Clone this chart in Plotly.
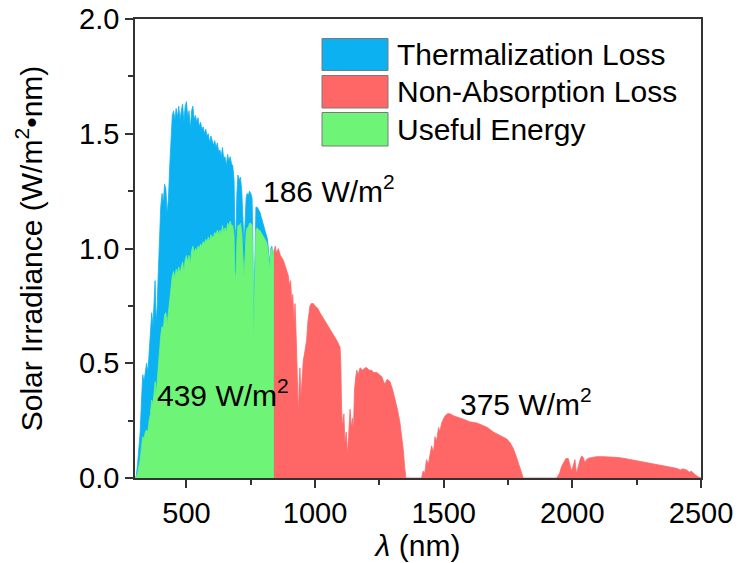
import plotly.graph_objects as go

# ---------------- data ----------------
# Full AM1.5G spectrum below the band edge (top of the blue area)
wl_vis = [300, 305, 310, 315, 320, 325, 330, 335, 340, 345, 350, 355, 360, 365, 370, 375, 378, 382, 386, 390,
          395, 400, 405, 410, 415, 420, 425, 430, 435, 440, 445, 450, 455, 460, 465, 470, 475, 480, 485, 490,
          495, 500, 505, 510, 515, 520, 525, 530, 535, 540, 545, 550, 555, 560, 565, 570, 575, 580, 585, 590,
          595, 600, 605, 610, 615, 620, 625, 630, 635, 640, 645, 650, 655, 660, 665, 670, 675, 680, 685, 688,
          692, 696, 700, 705, 710, 715, 720, 724, 728, 732, 736, 740, 745, 750, 755, 758, 761, 764, 767, 770,
          775, 780, 785, 790, 795, 800, 805, 810, 815, 820, 824, 828, 832, 836, 840]
total_vis = [0.0, 0.01, 0.06, 0.13, 0.20, 0.33, 0.45, 0.42, 0.47, 0.50, 0.46, 0.55, 0.60, 0.72, 0.66, 0.80, 0.86, 0.68, 0.74, 0.88,
             1.05, 1.18, 1.24, 1.20, 1.28, 1.26, 1.15, 1.22, 1.36, 1.45, 1.58, 1.60, 1.56, 1.61, 1.57, 1.62, 1.56, 1.60, 1.63, 1.55,
             1.62, 1.64, 1.57, 1.60, 1.52, 1.60, 1.62, 1.56, 1.58, 1.55, 1.57, 1.53, 1.55, 1.52, 1.53, 1.50, 1.52, 1.49, 1.50, 1.46,
             1.49, 1.47, 1.45, 1.47, 1.44, 1.46, 1.42, 1.43, 1.40, 1.44, 1.39, 1.40, 1.36, 1.41, 1.38, 1.40, 1.37, 1.36, 1.30, 1.10,
             1.04, 1.24, 1.32, 1.30, 1.31, 1.25, 1.10, 1.01, 1.12, 1.22, 1.24, 1.23, 1.25, 1.24, 1.22, 1.05, 0.64, 0.90, 1.16, 1.18,
             1.18, 1.17, 1.16, 1.14, 1.12, 1.10, 1.08, 1.07, 1.04, 0.98, 0.93, 1.00, 1.01, 0.97, 0.99]
# Useful part (top of the green area)
useful_vis = [0.0, 0.005, 0.02, 0.05, 0.08, 0.13, 0.18, 0.17, 0.20, 0.21, 0.20, 0.25, 0.28, 0.34, 0.32, 0.38, 0.42, 0.36, 0.42, 0.50,
              0.56, 0.62, 0.66, 0.65, 0.71, 0.72, 0.67, 0.72, 0.79, 0.83, 0.88, 0.90, 0.87, 0.91, 0.89, 0.92, 0.89, 0.92, 0.94, 0.90,
              0.95, 0.97, 0.94, 0.97, 0.93, 0.99, 1.01, 0.98, 1.00, 0.99, 1.01, 1.00, 1.02, 1.01, 1.03, 1.02, 1.04, 1.03, 1.05, 1.03,
              1.06, 1.05, 1.05, 1.07, 1.06, 1.08, 1.06, 1.08, 1.06, 1.10, 1.07, 1.09, 1.07, 1.11, 1.10, 1.12, 1.10, 1.10, 1.06, 0.90,
              0.86, 1.03, 1.10, 1.10, 1.11, 1.07, 0.95, 0.87, 0.97, 1.07, 1.09, 1.09, 1.11, 1.11, 1.10, 0.95, 0.58, 0.82, 1.06, 1.08,
              1.09, 1.08, 1.08, 1.07, 1.06, 1.05, 1.04, 1.03, 1.01, 0.96, 0.91, 0.99, 1.00, 0.97, 0.99]
# Spectrum above the band edge (red area)
wl_ir = [840, 845, 850, 857, 865, 876, 885, 896, 900, 905, 909, 913, 918, 922, 927, 931, 935, 938, 941, 945,
         950, 954, 960, 967, 972, 976, 980, 985, 993, 1000, 1010, 1019, 1030, 1045, 1060, 1071, 1084, 1097, 1100, 1103,
         1107, 1112, 1116, 1121, 1126, 1130, 1136, 1140, 1145, 1149, 1153, 1158, 1162, 1167, 1175, 1185, 1195, 1201, 1210, 1220,
         1226, 1240, 1252, 1260, 1266, 1272, 1280, 1291, 1300, 1310, 1320, 1330, 1337, 1343, 1348, 1353, 1414, 1420, 1426, 1433,
         1440, 1446, 1453, 1460, 1466, 1472, 1480, 1485, 1492, 1500, 1505, 1515, 1524, 1540, 1555, 1563, 1580, 1600, 1628, 1650,
         1670, 1693, 1710, 1730, 1745, 1757, 1770, 1783, 1795, 1805, 1809, 1939, 1950, 1958, 1966, 1975, 1984, 1990, 1997, 2005,
         2010, 2016, 2022, 2030, 2036, 2042, 2049, 2055, 2062, 2075, 2094, 2120, 2146, 2170, 2198, 2225, 2250, 2275, 2302, 2330,
         2353, 2380, 2405, 2420, 2430, 2444, 2455, 2462, 2470, 2480, 2489, 2500]
nonabs_ir = [0.99, 1.01, 0.98, 1.00, 0.97, 0.95, 0.92, 0.88, 0.84, 0.86, 0.76, 0.80, 0.68, 0.76, 0.60, 0.45, 0.27, 0.40, 0.48, 0.35,
             0.47, 0.51, 0.55, 0.60, 0.68, 0.72, 0.75, 0.76, 0.76, 0.75, 0.74, 0.72, 0.70, 0.67, 0.64, 0.62, 0.60, 0.57, 0.50, 0.30,
             0.22, 0.28, 0.15, 0.20, 0.10, 0.18, 0.30, 0.22, 0.26, 0.20, 0.38, 0.44, 0.47, 0.45, 0.48, 0.47, 0.48, 0.48, 0.47, 0.47,
             0.46, 0.46, 0.45, 0.44, 0.42, 0.41, 0.43, 0.42, 0.39, 0.35, 0.30, 0.24, 0.18, 0.12, 0.05, 0.00, 0.00, 0.03, 0.02, 0.08,
             0.06, 0.10, 0.14, 0.11, 0.18, 0.16, 0.22, 0.20, 0.24, 0.26, 0.27, 0.28, 0.28, 0.27, 0.265, 0.26, 0.255, 0.245, 0.24, 0.23,
             0.22, 0.20, 0.19, 0.18, 0.17, 0.155, 0.13, 0.09, 0.05, 0.01, 0.00, 0.00, 0.02, 0.05, 0.07, 0.085, 0.085, 0.06, 0.03, 0.06,
             0.08, 0.02, 0.05, 0.08, 0.096, 0.09, 0.065, 0.08, 0.086, 0.09, 0.093, 0.093, 0.093, 0.09, 0.086, 0.08, 0.075, 0.07, 0.064, 0.058,
             0.052, 0.047, 0.042, 0.035, 0.04, 0.035, 0.025, 0.03, 0.02, 0.012, 0.005, 0.0]

series_names = ["Thermalization Loss", "Non-Absorption Loss", "Useful Energy"]
series_colors = ["#0CB1F2", "#FF6666", "#6EF577"]
power_labels = ["186 W/m<sup>2</sup>", "439 W/m<sup>2</sup>", "375 W/m<sup>2</sup>"]

FONT = "Liberation Sans, Arial, sans-serif"
FS = 30
FS_TICK = 29

fig = go.Figure()
fig.add_trace(go.Scatter(x=wl_vis, y=total_vis, mode="lines", fill="tozeroy",
                         line=dict(color=series_colors[0], width=0.8), fillcolor=series_colors[0],
                         name=series_names[0], showlegend=False))
fig.add_trace(go.Scatter(x=wl_vis, y=useful_vis, mode="lines", fill="tozeroy",
                         line=dict(color=series_colors[2], width=0.8), fillcolor=series_colors[2],
                         name=series_names[2], showlegend=False))
fig.add_trace(go.Scatter(x=wl_ir, y=nonabs_ir, mode="lines", fill="tozeroy",
                         line=dict(color=series_colors[1], width=0.8), fillcolor=series_colors[1],
                         name=series_names[1], showlegend=False))

W, H = 738, 563
L, R, T, B = 135, 701, 19, 478

def px(xp):
    return (xp - L) / (R - L)

def py(yp):
    return (B - yp) / (B - T)

# manual legend (boxes + labels)
legend_rows = [(38.5, 70.5), (75.5, 108.0), (112.5, 146.0)]
for (y0, y1), name, col in zip(legend_rows, series_names, series_colors):
    fig.add_shape(type="rect", xref="paper", yref="paper",
                  x0=px(322), x1=px(388), y0=py(y1), y1=py(y0),
                  fillcolor=col, line=dict(color="#7a7a7a", width=1))
    fig.add_annotation(xref="paper", yref="paper", x=px(395), y=py((y0 + y1) / 2),
                       text=name, showarrow=False, xanchor="left", yanchor="middle",
                       font=dict(family=FONT, size=FS, color="black"))

# power annotations
fig.add_annotation(x=788, y=1.26, text=power_labels[0], showarrow=False, xanchor="left", yanchor="middle",
                   font=dict(family=FONT, size=FS, color="black"))
fig.add_annotation(x=379, y=0.37, text=power_labels[1], showarrow=False, xanchor="left", yanchor="middle",
                   font=dict(family=FONT, size=FS, color="black"))
fig.add_annotation(x=1555, y=0.33, text=power_labels[2], showarrow=False, xanchor="left", yanchor="middle",
                   font=dict(family=FONT, size=FS, color="black"))

axis_common = dict(showline=True, linecolor="#333333", linewidth=1.5, mirror=True,
                   ticks="outside", ticklen=8, tickwidth=1.5, tickcolor="#333333",
                   showgrid=False, zeroline=False, automargin=False,
                   tickfont=dict(family=FONT, size=FS_TICK, color="black"))

fig.update_layout(
    width=W, height=H,
    margin=dict(l=L, r=W - R, t=T, b=H - B),
    plot_bgcolor="white", paper_bgcolor="white",
    showlegend=False,
    xaxis=dict(range=[300, 2500], dtick=500, tick0=0,
               minor=dict(dtick=250, ticks="outside", ticklen=5, tickwidth=1.5, tickcolor="#333333"),
               title=dict(text="<i>λ</i> (nm)", font=dict(family=FONT, size=FS, color="black"), standoff=6),
               **axis_common),
    yaxis=dict(range=[0, 2.0], dtick=0.5, tick0=0, tickformat=".1f",
               minor=dict(dtick=0.25, ticks="outside", ticklen=5, tickwidth=1.5, tickcolor="#333333"),
               title=dict(text="Solar Irradiance (W/m<sup>2</sup>•nm)", font=dict(family=FONT, size=FS, color="black"),
                          standoff=28),
               **axis_common),
)

fig.write_html("out.html")
